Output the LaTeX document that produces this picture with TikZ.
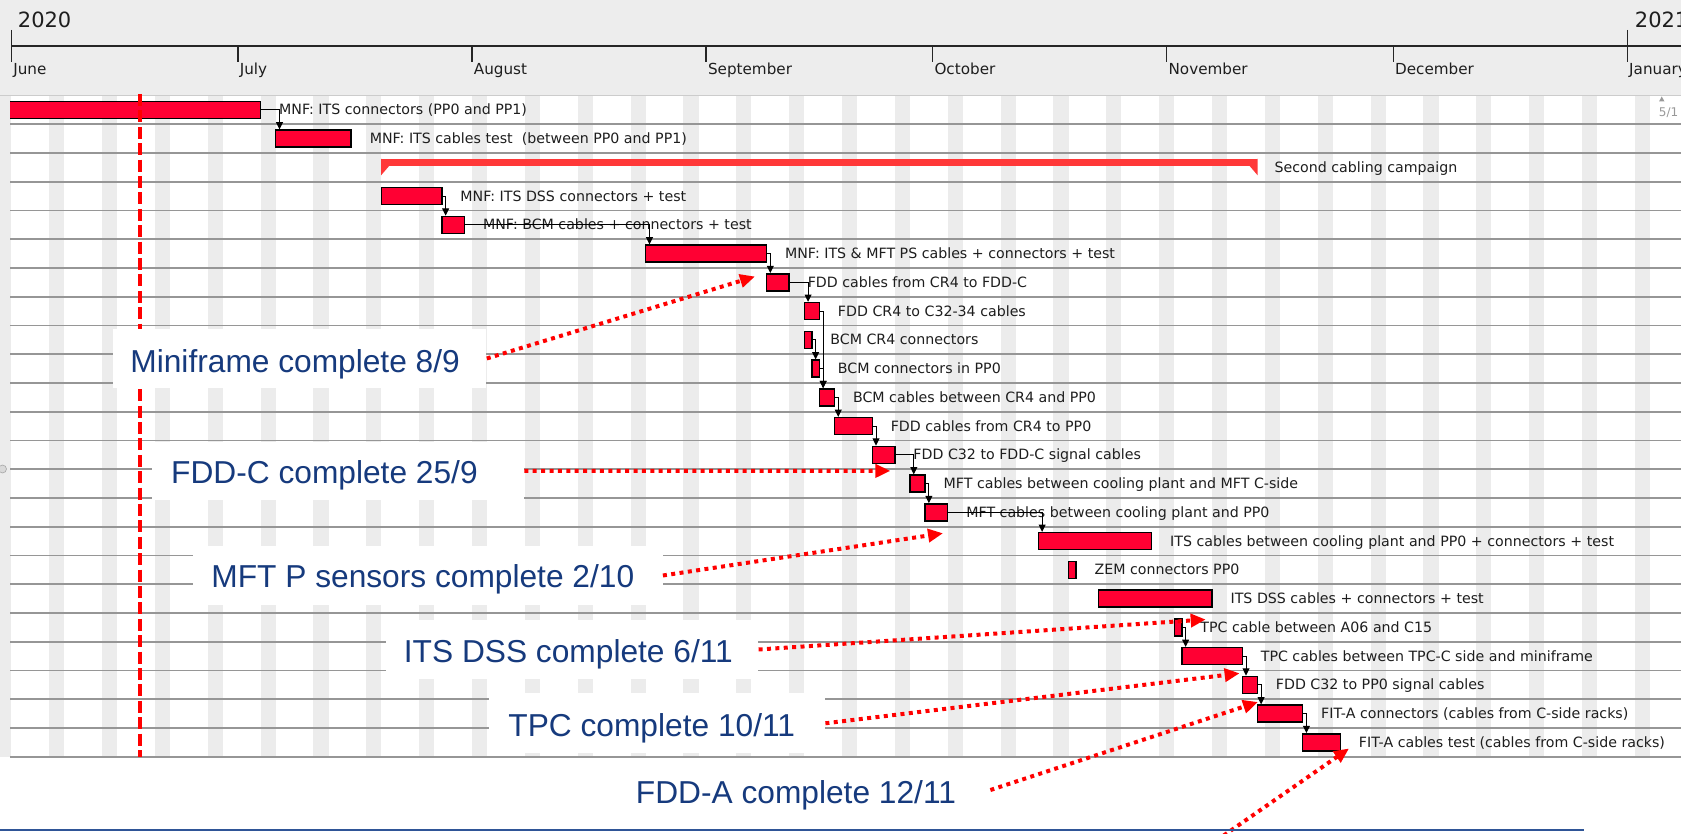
\documentclass[tikz,border=0pt]{standalone}
\usepackage{fontspec}
\newfontfamily\gfont{DejaVu Sans}
\newfontfamily\cfont{Liberation Sans}
\usetikzlibrary{calc,arrows.meta}
\definecolor{hdrgray}{RGB}{237,237,237}
\definecolor{wkgray}{RGB}{236,236,236}
\definecolor{gridgray}{RGB}{150,150,150}
\definecolor{barred}{RGB}{255,0,51}
\definecolor{sumred}{RGB}{255,56,56}
\definecolor{callblue}{RGB}{22,58,125}
\definecolor{lineblue}{RGB}{47,85,151}
\definecolor{txtgray}{RGB}{30,30,30}
% bar: name, start day, end day, row
\newcommand\gbar[4]{\node[gbar, minimum width={((#3)-(#2))*7.551*0.5pt}] (#1) at ({11.4+7.551*((#2)+(#3))/2}, {81.1+28.75*(#4)}) {};}
% label: name, bar, text
\newcommand\glabel[3]{\node[glbl] (#1) at ($(#2.east)+(17.5,5)$) {#3};}
% callout box: name, x1, y1, x2, y2
\newcommand\cbox[5]{\node[cboxst, minimum width={((#4)-(#2))*0.5pt}, minimum height={((#5)-(#3))*0.5pt}] (#1) at ({((#2)+(#4))/2},{((#3)+(#5))/2}) {};}
\begin{document}
\begin{tikzpicture}[x=0.5pt,y=-0.5pt,
  gbar/.style={draw=black, fill=barred, line width=0.7pt, inner sep=0pt, minimum height=8.5pt},
  glbl/.style={font=\gfont\fontsize{7.1pt}{8.5pt}\selectfont, text=txtgray, inner sep=0pt, anchor=base west},
  monthlbl/.style={font=\gfont\fontsize{7.6pt}{9pt}\selectfont, text=txtgray, inner sep=0pt, anchor=base west},
  yearlbl/.style={font=\gfont\fontsize{10.5pt}{12pt}\selectfont, text=txtgray, inner sep=0pt, anchor=base west},
  conn/.style={draw=black, line width=0.5pt, -{Triangle[length=3.6pt,width=3.4pt]}},
  cboxst/.style={fill=white, draw=none, inner sep=0pt},
  calltxt/.style={font=\cfont\fontsize{15.85pt}{18pt}\selectfont, text=callblue, inner sep=0pt, anchor=base west},
  callarrow/.style={draw=red, line width=2pt, dash pattern=on 2pt off 2.2pt, -{Triangle[length=7.5pt,width=6.5pt]}},
  mtick/.style={draw=black!85, line width=0.7pt}
]
\useasboundingbox (0,0) rectangle (1681,834);
\fill[white] (0,0) rectangle (1681,834);
% header
\fill[hdrgray] (0,0) rectangle (1681,95);
% weekend stripes
\foreach \k in {-1,...,31}
  \fill[wkgray] ({11.4+7.551*(5+7*\k)},95.5) rectangle ({11.4+7.551*(7+7*\k)},756.7);
\draw[black!20, line width=0.5pt] (0,95.5) -- (1681,95.5);
% row lines
\foreach \i in {1,...,23}
  \draw[gridgray, line width=0.8pt] (10,{95.5+28.75*\i}) -- (1681,{95.5+28.75*\i});
% time axis
\draw[mtick] (11.4,46) -- (1681,46);
\draw[mtick] (11.4,30) -- (11.4,61.7);
\draw[mtick] (1627.3,30) -- (1627.3,61.7);
\node[yearlbl] (y2020) at (17.5,28) {2020};
\node[yearlbl] (y2021) at (1634.5,28) {2021};
\foreach \d/\m [count=\n] in {0/June,30/July,61/August,92/September,122/October,153/November,183/December,214/January}{
  \draw[mtick] ({11.4+7.551*\d},46) -- ({11.4+7.551*\d},61.7);
  \node[monthlbl] (mon\n) at ({11.4+7.551*\d+1.5},74.5) {\m};
}
% scroll marker
\fill[black!40] (1659,101.5) -- (1664.5,101.5) -- (1661.75,96.5) -- cycle;
\node[font=\gfont\fontsize{6pt}{7pt}\selectfont, text=black!40, inner sep=0pt, anchor=base west] (pg) at (1658.5,117) {5/1};
\filldraw[fill=black!15, draw=black!35, line width=0.3pt] (2.5,469) circle[radius=4];
% bars
\begin{scope}
\clip (10,0) rectangle (1681,834);
\gbar{b1}{-3}{33}{1}
\end{scope}
\gbar{b2}{35}{45}{2}
% summary bar
\node[fill=sumred, inner sep=0pt, minimum height=3.35pt, minimum width={116*7.551*0.5pt}] (s3) at ({11.4+7.551*107},162.35) {};
\fill[sumred] (s3.north west) -- ($(s3.south west)+(0,9.3)$) -- ($(s3.south west)+(8,0)$) -- cycle;
\fill[sumred] (s3.north east) -- ($(s3.south east)+(0,9.3)$) -- ($(s3.south east)+(-8,0)$) -- cycle;
\gbar{b4}{49}{57}{4}
\gbar{b5}{57}{60}{5}
\gbar{b6}{84}{100}{6}
\gbar{b7}{100}{103}{7}
\gbar{b8}{105}{107}{8}
\gbar{b9}{105}{106}{9}
\gbar{b10}{106}{107}{10}
\gbar{b11}{107}{109}{11}
\gbar{b12}{109}{114}{12}
\gbar{b13}{114}{117}{13}
\gbar{b14}{119}{121}{14}
\gbar{b15}{121}{124}{15}
\gbar{b16}{136}{151}{16}
\gbar{b17}{140}{141}{17}
\gbar{b18}{144}{159}{18}
\gbar{b19}{154}{155}{19}
\gbar{b20}{155}{163}{20}
\gbar{b21}{163}{165}{21}
\gbar{b22}{165}{171}{22}
\gbar{b23}{171}{176}{23}
% labels
\glabel{l1}{b1}{MNF: ITS connectors (PP0 and PP1)}
\glabel{l2}{b2}{MNF: ITS cables test\ \ (between PP0 and PP1)}
\node[glbl] (l3) at ($(s3.east)+(16.5,10)$) {Second cabling campaign};
\glabel{l4}{b4}{MNF: ITS DSS connectors + test}
\glabel{l5}{b5}{MNF: BCM cables + connectors + test}
\glabel{l6}{b6}{MNF: ITS \& MFT PS cables + connectors + test}
\glabel{l7}{b7}{FDD cables from CR4 to FDD-C}
\glabel{l8}{b8}{FDD CR4 to C32-34 cables}
\glabel{l9}{b9}{BCM CR4 connectors}
\glabel{l10}{b10}{BCM connectors in PP0}
\glabel{l11}{b11}{BCM cables between CR4 and PP0}
\glabel{l12}{b12}{FDD cables from CR4 to PP0}
\glabel{l13}{b13}{FDD C32 to FDD-C signal cables}
\glabel{l14}{b14}{MFT cables between cooling plant and MFT C-side}
\glabel{l15}{b15}{MFT cables between cooling plant and PP0}
\glabel{l16}{b16}{ITS cables between cooling plant and PP0 + connectors + test}
\glabel{l17}{b17}{ZEM connectors PP0}
\glabel{l18}{b18}{ITS DSS cables + connectors + test}
\glabel{l19}{b19}{TPC cable between A06 and C15}
\glabel{l20}{b20}{TPC cables between TPC-C side and miniframe}
\glabel{l21}{b21}{FDD C32 to PP0 signal cables}
\glabel{l22}{b22}{FIT-A connectors (cables from C-side racks)}
\glabel{l23}{b23}{FIT-A cables test (cables from C-side racks)}
% dependencies
\foreach \p/\s in {b1/b2,b4/b5,b5/b6,b6/b7,b7/b8,b8/b11,b9/b10,b10/b11,b11/b12,b12/b13,b13/b14,b14/b15,b15/b16,b19/b20,b20/b21,b21/b22,b22/b23}
  \draw[conn] (\p.east) -| ($(\s.north west)+(4.5,0)$);
% today line
\draw[red, line width=2pt, dash pattern=on 6pt off 2.2pt] (139.5,94) -- (139.5,756.7);
% callouts
\cbox{c1}{112.5}{329.3}{486.4}{387.7}
\cbox{c2}{151.8}{441.7}{523.9}{500}
\cbox{c3}{193}{546}{662.5}{605}
\cbox{c4}{385.7}{620}{758.2}{679}
\cbox{c5}{488.6}{693.3}{825}{753.3}
\cbox{c6}{617}{762}{990}{818}
\node[calltxt] (t1) at (130,372.5) {Miniframe complete 8/9};
\node[calltxt] (t2) at (170.8,483) {FDD-C complete 25/9};
\node[calltxt] (t3) at (211,587.5) {MFT P sensors complete 2/10};
\node[calltxt] (t4) at (403.5,662) {ITS DSS complete 6/11};
\node[calltxt] (t5) at (508,736.5) {TPC complete 10/11};
\node[calltxt] (t6) at (635.5,803) {FDD-A complete 12/11};
\coordinate (tip1) at (755,276.5);
\coordinate (tip2) at (890.4,470.9);
\coordinate (tip3) at (943,533.3);
\coordinate (tip4) at (1205.7,619.5);
\coordinate (tip5) at (1239.6,673.3);
\coordinate (tip6) at (1258,702);
\coordinate (tip7) at (1349,748.5);
\coordinate (s7) at (1210,845);
\draw[callarrow] (c1.east) -- (tip1);
\draw[callarrow] (c2.east) -- (tip2);
\draw[callarrow] (c3.east) -- (tip3);
\draw[callarrow] (c4.east) -- (tip4);
\draw[callarrow] (c5.east) -- (tip5);
\draw[callarrow] (c6.east) -- (tip6);
\draw[callarrow] (s7) -- (tip7);
% bottom rule
\draw[lineblue, line width=1pt] (0,830) -- (1583.6,830);
\end{tikzpicture}
\end{document}
